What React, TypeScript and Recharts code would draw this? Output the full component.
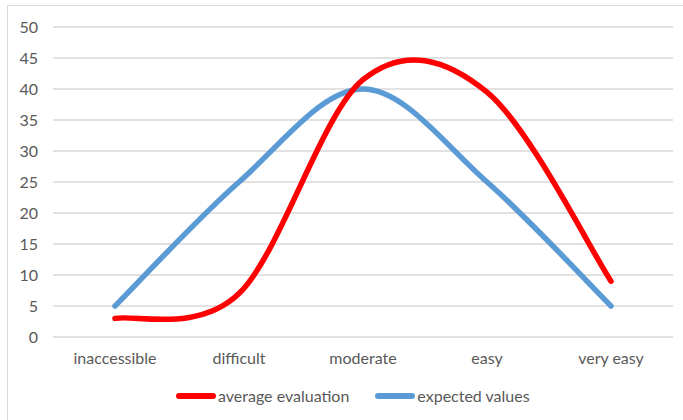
import { LineChart, Line, XAxis, YAxis, CartesianGrid } from 'recharts';

const categories = ['inaccessible', 'difficult', 'moderate', 'easy', 'very easy'];
const averageEvaluation = [3, 7, 41.5, 39.5, 9];
const expectedValues = [5, 25, 40, 25, 5];
const yTicks = [0, 5, 10, 15, 20, 25, 30, 35, 40, 45, 50];

const data = categories.map((name, i) => ({
  name,
  average: averageEvaluation[i],
  expected: expectedValues[i],
}));

// Excel-style smoothed line (Catmull-Rom through the points)
const excelSmooth = (context: any) => {
  let pts: [number, number][] = [];
  return {
    areaStart() {},
    areaEnd() {},
    lineStart() {
      pts = [];
    },
    lineEnd() {
      if (!pts.length) return;
      context.moveTo(pts[0][0], pts[0][1]);
      for (let i = 0; i < pts.length - 1; i++) {
        const p0 = pts[Math.max(i - 1, 0)];
        const p1 = pts[i];
        const p2 = pts[i + 1];
        const p3 = pts[Math.min(i + 2, pts.length - 1)];
        context.bezierCurveTo(
          p1[0] + (p2[0] - p0[0]) / 6,
          p1[1] + (p2[1] - p0[1]) / 6,
          p2[0] - (p3[0] - p1[0]) / 6,
          p2[1] - (p3[1] - p1[1]) / 6,
          p2[0],
          p2[1]
        );
      }
    },
    point(x: number, y: number) {
      pts.push([x, y]);
    },
  };
};

const font = 'Lato, "Open Sans", sans-serif';
const textColor = '#595959';

const App = () => {
  return (
    <div
      style={{
        position: 'fixed',
        left: 0,
        top: 0,
        width: 683,
        height: 420,
        overflow: 'hidden',
        background: '#fff',
        fontFamily: font,
      }}
    >
      <div
        style={{
          position: 'absolute',
          left: 7,
          top: 5,
          width: 700,
          height: 440,
          border: '1.5px solid #D9D9D9',
        }}
      />
      <LineChart
        width={683}
        height={420}
        data={data}
        margin={{ top: 27, right: 10, left: 0, bottom: 53 }}
        style={{ position: 'absolute', left: 0, top: 0 }}
      >
        <CartesianGrid stroke="#D9D9D9" strokeWidth={1.5} vertical={false} />
        <XAxis
          dataKey="name"
          height={30}
          axisLine={false}
          tickLine={false}
          tickSize={0}
          tickMargin={16}
          padding={{ left: 62, right: 62 }}
          tick={{ fontSize: 16, fontFamily: font, fill: textColor }}
          interval={0}
        />
        <YAxis
          width={53}
          domain={[0, 50]}
          ticks={yTicks}
          axisLine={false}
          tickLine={false}
          tickSize={0}
          tickMargin={15}
          tick={{ fontSize: 16, fontFamily: font, fill: textColor }}
        />
        <Line
          dataKey="expected"
          type={excelSmooth as any}
          stroke="#5B9BD5"
          strokeWidth={5.5}
          strokeLinecap="round"
          dot={false}
          activeDot={false}
          isAnimationActive={false}
        />
        <Line
          dataKey="average"
          type={excelSmooth as any}
          stroke="#FF0000"
          strokeWidth={5.5}
          strokeLinecap="round"
          dot={false}
          activeDot={false}
          isAnimationActive={false}
        />
      </LineChart>
      <div
        style={{
          position: 'absolute',
          left: 176,
          top: 386,
          display: 'flex',
          alignItems: 'center',
          fontSize: 16,
          color: textColor,
          whiteSpace: 'nowrap',
        }}
      >
        <div style={{ width: 40, height: 6, borderRadius: 3, background: '#FF0000', marginRight: 2 }} />
        <span>average evaluation</span>
        <div style={{ width: 40, height: 6, borderRadius: 3, background: '#5B9BD5', marginLeft: 26, marginRight: 2 }} />
        <span>expected values</span>
      </div>
    </div>
  );
};

export default App;
